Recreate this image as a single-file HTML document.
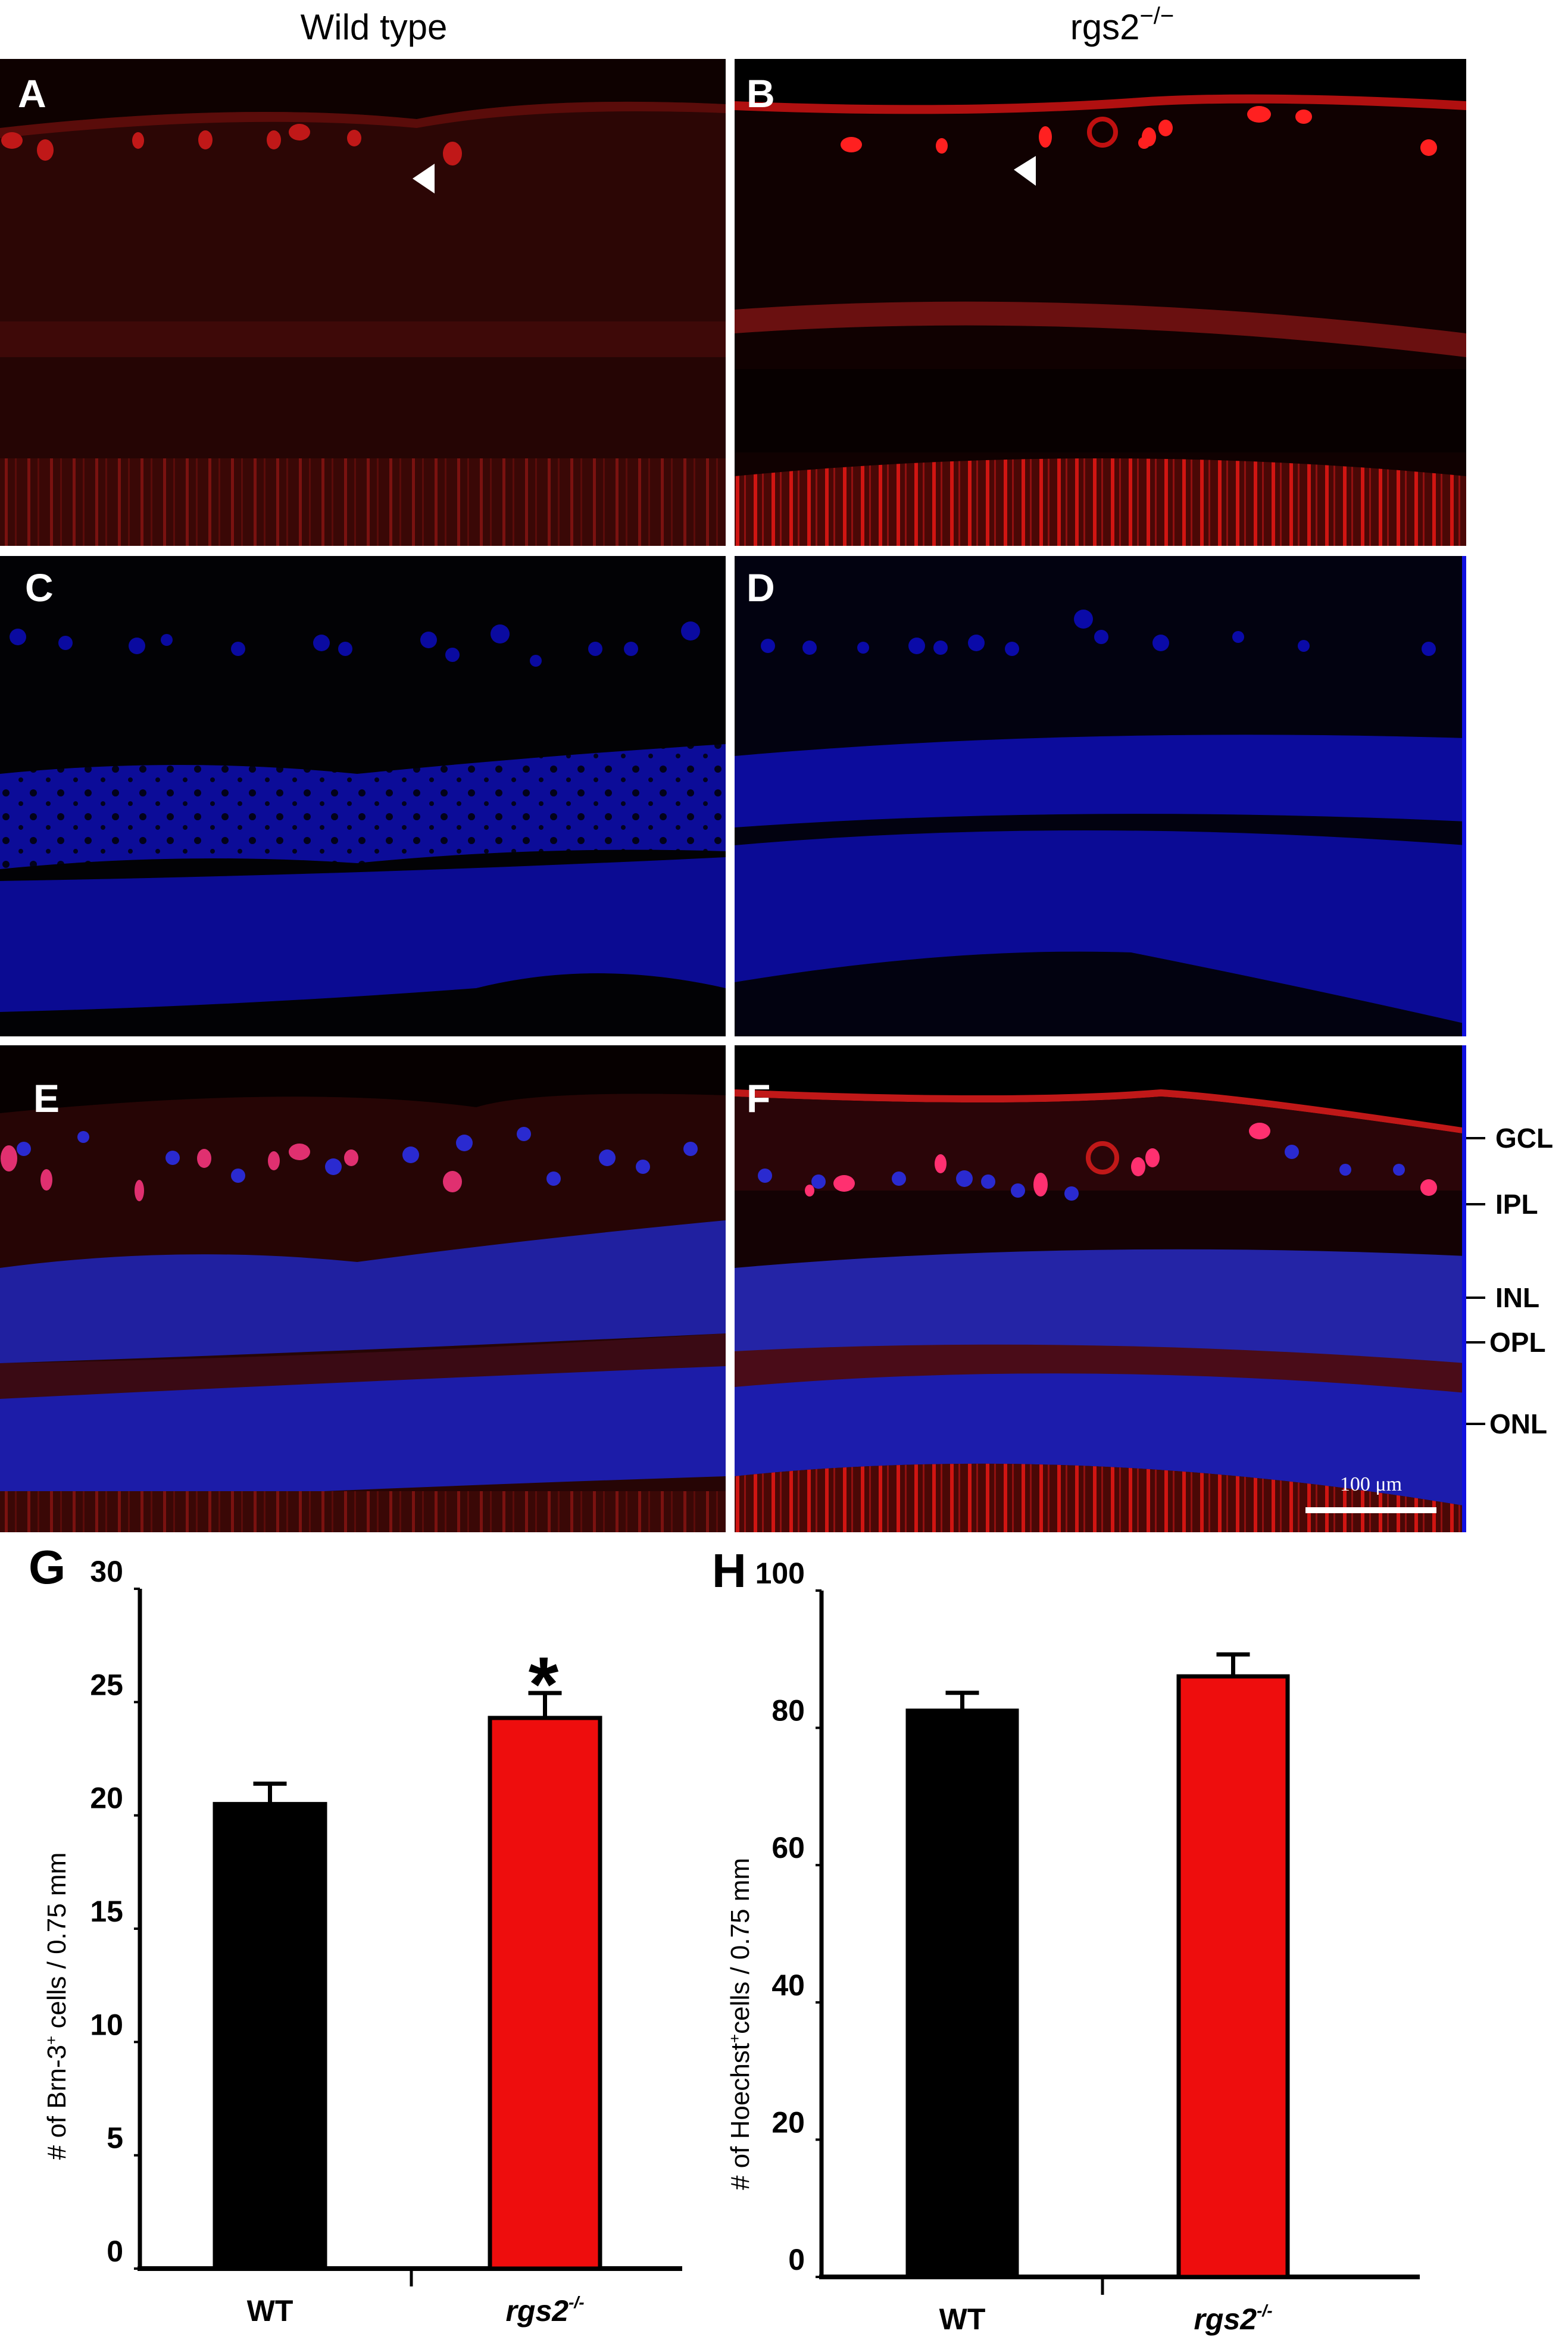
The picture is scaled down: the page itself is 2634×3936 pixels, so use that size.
<!DOCTYPE html>
<html><head><meta charset="utf-8"><style>
html,body{margin:0;padding:0;background:#fff}
svg{display:block}
text{font-family:"Liberation Sans",Arial,sans-serif}
</style></head><body>
<svg id="fig" width="2634" height="3936" viewBox="0 0 2634 3936" xmlns="http://www.w3.org/2000/svg">
<defs>
<pattern id="stripesA" width="38" height="200" patternUnits="userSpaceOnUse"><rect width="38" height="200" fill="#3a0806"/><rect x="8" width="5" height="200" fill="#7a1210"/><rect x="25" width="3" height="200" fill="#5a0c0a"/></pattern>
<pattern id="stripesB" width="30" height="200" patternUnits="userSpaceOnUse"><rect width="30" height="200" fill="#4a0806"/><rect x="6" width="6" height="200" fill="#d01512"/><rect x="20" width="3" height="200" fill="#901010"/></pattern>
<pattern id="cellsBlue" width="46" height="40" patternUnits="userSpaceOnUse"><rect width="46" height="40" fill="#0c0c98"/><circle cx="10" cy="12" r="6" fill="#02021a"/><circle cx="35" cy="30" r="4" fill="#03031e"/></pattern>
</defs>
<rect width="2634" height="3936" fill="#fff"/>

<text x="628" y="66" font-size="60" text-anchor="middle">Wild type</text>
<text x="1885" y="66" font-size="60" text-anchor="middle">rgs2<tspan font-size="40" dy="-26">−/−</tspan></text>

<!-- Panel A -->
<g>
<rect x="0" y="99" width="1219" height="818" fill="#2c0605"/>
<path d="M0 99 H1219 V175 Q900 160 700 200 Q400 170 0 215 Z" fill="#0e0100"/>
<path d="M0 215 Q400 170 700 200 Q900 160 1219 175 V190 Q900 178 700 215 Q400 188 0 232Z" fill="#5a0c0a"/>
<rect x="0" y="540" width="1219" height="60" fill="#3e0908"/>
<rect x="0" y="600" width="1219" height="170" fill="#250504"/>
<rect x="0" y="770" width="1219" height="147" fill="url(#stripesA)"/>
<g fill="#c01818"><ellipse cx="20" cy="236" rx="18" ry="14"/><ellipse cx="76" cy="252" rx="14" ry="18"/><ellipse cx="345" cy="235" rx="12" ry="16"/><ellipse cx="460" cy="235" rx="12" ry="16"/><ellipse cx="503" cy="222" rx="18" ry="14"/><ellipse cx="760" cy="258" rx="16" ry="20"/><ellipse cx="595" cy="232" rx="12" ry="14"/><ellipse cx="232" cy="236" rx="10" ry="14"/></g>
<polygon points="693,300 730,275 730,325" fill="#fff"/>
<text x="30" y="180" font-size="66" font-weight="bold" fill="#fff">A</text>
</g>

<!-- Panel B -->
<g>
<rect x="1234" y="99" width="1229" height="818" fill="#100101"/>
<path d="M1234 99 H2463 V170 Q2100 150 1900 165 Q1600 185 1234 170Z" fill="#000"/>
<path d="M1234 170 Q1600 185 1900 165 Q2100 150 2463 170 V185 Q2100 165 1900 180 Q1600 200 1234 185Z" fill="#b01010"/>
<path d="M1234 520 Q1800 480 2463 560 V600 Q1800 520 1234 560Z" fill="#6a1010"/>
<rect x="1234" y="620" width="1229" height="140" fill="#070000"/>
<path d="M1234 800 Q1850 740 2463 800 V917 H1234Z" fill="url(#stripesB)"/>
<g fill="#ff2020"><ellipse cx="1430" cy="243" rx="18" ry="13"/><ellipse cx="1582" cy="245" rx="10" ry="13"/><ellipse cx="1756" cy="230" rx="11" ry="18"/><ellipse cx="1930" cy="230" rx="12" ry="16"/><ellipse cx="1958" cy="215" rx="12" ry="14"/><ellipse cx="2115" cy="192" rx="20" ry="14"/><ellipse cx="2190" cy="196" rx="14" ry="12"/><ellipse cx="2400" cy="248" rx="14" ry="14"/><circle cx="1922" cy="240" r="10"/><circle cx="1852" cy="222" r="22" fill="none" stroke="#c01010" stroke-width="8"/></g>
<polygon points="1703,285 1740,262 1740,312" fill="#fff"/>
<text x="1254" y="180" font-size="66" font-weight="bold" fill="#fff">B</text>
</g>

<!-- Panel C -->
<g>
<rect x="0" y="934" width="1219" height="807" fill="#020205"/>
<path d="M0 1300 Q300 1270 600 1300 Q900 1270 1219 1250 V1430 Q900 1420 600 1450 Q300 1430 0 1460Z" fill="url(#cellsBlue)"/>
<path d="M0 1480 Q600 1470 1219 1440 V1660 Q1000 1610 800 1660 Q400 1690 0 1700Z" fill="#0b0b92"/>
<g fill="#0a0aa0"><circle cx="30" cy="1070" r="14"/><circle cx="110" cy="1080" r="12"/><circle cx="230" cy="1085" r="14"/><circle cx="280" cy="1075" r="10"/><circle cx="400" cy="1090" r="12"/><circle cx="540" cy="1080" r="14"/><circle cx="580" cy="1090" r="12"/><circle cx="720" cy="1075" r="14"/><circle cx="760" cy="1100" r="12"/><circle cx="840" cy="1065" r="16"/><circle cx="1000" cy="1090" r="12"/><circle cx="1060" cy="1090" r="12"/><circle cx="1160" cy="1060" r="16"/><circle cx="900" cy="1110" r="10"/></g>
<text x="42" y="1010" font-size="66" font-weight="bold" fill="#fff">C</text>
</g>

<!-- Panel D -->
<g>
<rect x="1234" y="934" width="1229" height="807" fill="#020210"/>
<path d="M1234 1270 Q1800 1220 2463 1240 V1380 Q1800 1350 1234 1390Z" fill="#0c0c9c"/>
<path d="M1234 1420 Q1800 1370 2463 1420 V1720 Q2200 1660 1900 1600 Q1600 1590 1234 1650Z" fill="#0b0b95"/>
<g fill="#0a0aa8"><circle cx="1290" cy="1085" r="12"/><circle cx="1360" cy="1088" r="12"/><circle cx="1450" cy="1088" r="10"/><circle cx="1540" cy="1085" r="14"/><circle cx="1580" cy="1088" r="12"/><circle cx="1640" cy="1080" r="14"/><circle cx="1700" cy="1090" r="12"/><circle cx="1820" cy="1040" r="16"/><circle cx="1850" cy="1070" r="12"/><circle cx="1950" cy="1080" r="14"/><circle cx="2080" cy="1070" r="10"/><circle cx="2190" cy="1085" r="10"/><circle cx="2400" cy="1090" r="12"/></g>
<rect x="2456" y="934" width="7" height="807" fill="#1010e0"/>
<text x="1254" y="1010" font-size="66" font-weight="bold" fill="#fff">D</text>
</g>

<!-- Panel E -->
<g>
<rect x="0" y="1756" width="1219" height="818" fill="#260505"/>
<path d="M0 1756 H1219 V1840 Q900 1830 800 1860 Q500 1820 0 1870Z" fill="#060000"/>
<path d="M0 2300 Q600 2290 1219 2250 V2480 Q600 2500 0 2530Z" fill="#1c1ca8"/>
<path d="M0 2290 Q600 2280 1219 2240 V2295 Q600 2320 0 2350Z" fill="#3a0a14"/>
<path d="M0 2130 Q300 2090 600 2120 Q900 2080 1219 2050 V2240 Q600 2270 0 2290Z" fill="#2020a0"/>
<rect x="0" y="2505" width="1219" height="69" fill="url(#stripesA)"/>
<g fill="#e03070"><ellipse cx="15" cy="1946" rx="14" ry="22"/><ellipse cx="78" cy="1982" rx="10" ry="18"/><ellipse cx="343" cy="1946" rx="12" ry="16"/><ellipse cx="460" cy="1950" rx="10" ry="16"/><ellipse cx="503" cy="1935" rx="18" ry="14"/><ellipse cx="760" cy="1985" rx="16" ry="18"/><ellipse cx="590" cy="1945" rx="12" ry="14"/><ellipse cx="234" cy="2000" rx="8" ry="18"/></g>
<g fill="#2a2ad0"><circle cx="40" cy="1930" r="12"/><circle cx="140" cy="1910" r="10"/><circle cx="290" cy="1945" r="12"/><circle cx="400" cy="1975" r="12"/><circle cx="560" cy="1960" r="14"/><circle cx="690" cy="1940" r="14"/><circle cx="780" cy="1920" r="14"/><circle cx="880" cy="1905" r="12"/><circle cx="930" cy="1980" r="12"/><circle cx="1020" cy="1945" r="14"/><circle cx="1080" cy="1960" r="12"/><circle cx="1160" cy="1930" r="12"/></g>
<text x="56" y="1868" font-size="66" font-weight="bold" fill="#fff">E</text>
</g>

<!-- Panel F -->
<g>
<rect x="1234" y="1756" width="1229" height="818" fill="#140204"/>
<path d="M1234 1756 H2463 V1895 Q2100 1840 1950 1830 Q1700 1850 1234 1830Z" fill="#000"/>
<path d="M1234 1830 Q1700 1850 1950 1830 Q2100 1840 2463 1895 V1905 Q2100 1852 1950 1842 Q1700 1862 1234 1842Z" fill="#c01818"/>
<path d="M1234 1842 Q1700 1862 1950 1842 Q2100 1852 2463 1905 V2000 H1234Z" fill="#2a0508"/>
<path d="M1234 2130 Q1800 2080 2463 2110 V2300 Q1800 2250 1234 2290Z" fill="#2424a6"/>
<path d="M1234 2270 Q1800 2240 2463 2290 V2340 Q1800 2300 1234 2330Z" fill="#4a0c18"/>
<path d="M1234 2330 Q1800 2280 2463 2340 V2530 Q1800 2420 1234 2480Z" fill="#1c1cac"/>
<path d="M1234 2480 Q1800 2420 2463 2530 V2574 H1234Z" fill="url(#stripesB)"/>
<g fill="#ff3070"><ellipse cx="1418" cy="1988" rx="18" ry="14"/><ellipse cx="1580" cy="1955" rx="10" ry="16"/><ellipse cx="1748" cy="1990" rx="12" ry="20"/><ellipse cx="1912" cy="1960" rx="12" ry="16"/><ellipse cx="1936" cy="1945" rx="12" ry="16"/><ellipse cx="2116" cy="1900" rx="18" ry="14"/><ellipse cx="2400" cy="1995" rx="14" ry="14"/><ellipse cx="1360" cy="2000" rx="8" ry="10"/></g>
<g fill="#2a2ad0"><circle cx="1285" cy="1975" r="12"/><circle cx="1375" cy="1985" r="12"/><circle cx="1510" cy="1980" r="12"/><circle cx="1620" cy="1980" r="14"/><circle cx="1660" cy="1985" r="12"/><circle cx="1710" cy="2000" r="12"/><circle cx="1800" cy="2005" r="12"/><circle cx="2170" cy="1935" r="12"/><circle cx="2260" cy="1965" r="10"/><circle cx="2350" cy="1965" r="10"/></g>
<circle cx="1852" cy="1945" r="24" fill="none" stroke="#c01818" stroke-width="8"/>
<rect x="2456" y="1756" width="7" height="818" fill="#1010e0"/>
<rect x="2193" y="2532" width="220" height="10" fill="#fff"/>
<text x="2303" y="2504" font-size="34" fill="#fff" text-anchor="middle" style="font-family:'Liberation Serif',serif">100 μm</text>
<text x="1254" y="1868" font-size="66" font-weight="bold" fill="#fff">F</text>
</g>

<!-- Layer labels -->
<g font-size="46" font-weight="bold">
<line x1="2463" y1="1912" x2="2495" y2="1912" stroke="#000" stroke-width="4"/><text x="2512" y="1928">GCL</text>
<line x1="2463" y1="2023" x2="2495" y2="2023" stroke="#000" stroke-width="4"/><text x="2512" y="2039">IPL</text>
<line x1="2463" y1="2180" x2="2495" y2="2180" stroke="#000" stroke-width="4"/><text x="2512" y="2196">INL</text>
<line x1="2463" y1="2255" x2="2495" y2="2255" stroke="#000" stroke-width="4"/><text x="2502" y="2271">OPL</text>
<line x1="2463" y1="2392" x2="2495" y2="2392" stroke="#000" stroke-width="4"/><text x="2502" y="2408">ONL</text>
</g>
<g id="charts"></g>
</svg>
<script>
const categories = ["WT", "rgs2"];
const gValues = [20.5, 24.3];
const gErrors = [0.9, 1.1];
const gTicks = [0, 5, 10, 15, 20, 25, 30];
const hValues = [82.5, 87.5];
const hErrors = [2.6, 3.2];
const hTicks = [0, 20, 40, 60, 80, 100];
const barColors = ["#000000", "#ee0d0d"];

const NS = "http://www.w3.org/2000/svg";
const root = document.getElementById("charts");
function mk(tag, attrs, parent, text) {
  const e = document.createElementNS(NS, tag);
  for (const k in attrs) e.setAttribute(k, attrs[k]);
  if (text !== undefined) e.textContent = text;
  (parent || root).appendChild(e);
  return e;
}
function drawChart(cfg) {
  const g = mk("g", {});
  
  
  const y = v => cfg.y0 - (v - cfg.min) / (cfg.max - cfg.min) * (cfg.y0 - cfg.yTop);
  const yAxis = mk("line", {x1: cfg.ax, y1: y(cfg.max), x2: cfg.ax, y2: cfg.y0, stroke: "#000", "stroke-width": 7}, g);
  
  
  const xAxis = mk("line", {x1: cfg.ax - 4, y1: cfg.y0, x2: cfg.axEnd, y2: cfg.y0, stroke: "#000", "stroke-width": 8}, g);
  
  
  const mid = mk("line", {x1: cfg.midTick, y1: cfg.y0, x2: cfg.midTick, y2: cfg.y0 + 30, stroke: "#000", "stroke-width": 5}, g);
  
  
  cfg.ticks.forEach(t => {
    const tk = mk("line", {x1: cfg.ax - 10, y1: y(t), x2: cfg.ax, y2: y(t), stroke: "#000", "stroke-width": 4}, g);
    
    
    const lb = mk("text", {x: cfg.ax - 28, y: y(t) - 12, "font-size": 50, "font-weight": "bold", "text-anchor": "end"}, g, String(t));
    
    
  });
  cfg.values.forEach((v, i) => {
    const x0 = cfg.barX[i];
    const bar = mk("rect", {x: x0, y: y(v), width: cfg.barW, height: cfg.y0 - y(v), fill: barColors[i], stroke: "#000", "stroke-width": 7}, g);
    
    
    const cx = x0 + cfg.barW / 2;
    const ev = v + cfg.errors[i];
    const eb = mk("path", {d: `M${cx} ${y(v)} V${y(ev)} M${cx - 28} ${y(ev)} H${cx + 28}`, stroke: "#000", "stroke-width": 7, fill: "none"}, g);
    
    
    const xl = mk("text", {x: cx, y: cfg.y0 + 88, "font-size": 50, "font-weight": "bold", "text-anchor": "middle", "font-style": i ? "italic" : "normal"}, g);
    
    
    if (i === 0) xl.textContent = "WT";
    else { xl.textContent = "rgs2"; mk("tspan", {"font-size": 28, dy: -22}, xl, "-/-"); }
  });
  const t = mk("text", {transform: `translate(${cfg.titleX},${cfg.titleY}) rotate(-90)`, "font-size": 44, "text-anchor": "middle"}, g);
  
  
  t.innerHTML = cfg.title;
  const L = mk("text", {x: cfg.letterX, y: cfg.letterY, "font-size": 80, "font-weight": "bold"}, g, cfg.letter);
  
  
  return {g, y};
}
const G = drawChart({name: "chart-g-brn3-cells", ax: 235, axEnd: 1146, y0: 3811, yTop: 2669, min: 0, max: 30,
  ticks: gTicks, values: gValues, errors: gErrors, barX: [361, 823], barW: 185, midTick: 691,
  titleX: 110, titleY: 3370, title: '# of Brn-3<tspan font-size="26" dy="-15">+</tspan><tspan dy="15"> cells / 0.75 mm</tspan>',
  letter: "G", letterX: 48, letterY: 2660});
const star = mk("text", {x: 913, y: G.y(gValues[1] + gErrors[1]) + 30, "font-size": 130, "font-weight": "bold", "text-anchor": "middle"}, G.g, "*");


drawChart({name: "chart-h-hoechst-cells", ax: 1380, axEnd: 2385, y0: 3825, yTop: 2672, min: 0, max: 100,
  ticks: hTicks, values: hValues, errors: hErrors, barX: [1525, 1980], barW: 183, midTick: 1852,
  titleX: 1258, titleY: 3400, title: '# of Hoechst<tspan font-size="26" dy="-15">+</tspan><tspan dy="15">cells / 0.75 mm</tspan>',
  letter: "H", letterX: 1196, letterY: 2666});
</script>
</body></html>
